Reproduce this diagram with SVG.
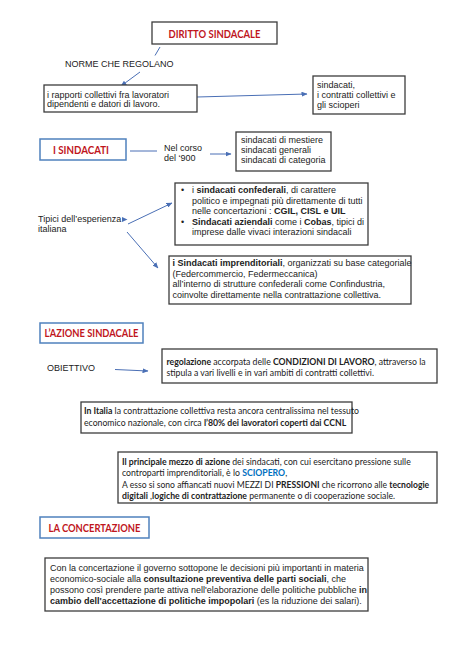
<svg xmlns="http://www.w3.org/2000/svg" width="474" height="670" viewBox="0 0 474 670">
<style>
.bg{fill:#fff}
.box{fill:#fff;stroke:#3c3c3c;stroke-width:1.3}
.hbox{fill:#fff;stroke:#4f81bd;stroke-width:1.5}
.h{font-family:Lato,"Open Sans",sans-serif;font-weight:bold;font-size:11px;fill:#c0161d;text-anchor:middle}
.a{font-family:"Liberation Sans",Arial,sans-serif;font-size:9px;fill:#222}
.c{font-family:Lato,"Open Sans",sans-serif;font-size:8.7px;fill:#222}
.b{font-weight:bold}
.conn{stroke:#4a6fb5;stroke-width:1;fill:none}
</style>
<defs>
<marker id="ah" markerWidth="6" markerHeight="5" refX="5.5" refY="2.5" orient="auto" markerUnits="userSpaceOnUse">
<path d="M0,0 L6,2.5 L0,5 Z" fill="#4a6fb5"/>
</marker>
</defs>
<rect class="bg" width="474" height="670"/>

<g id="connectors">
<line class="conn" x1="160" y1="47" x2="155" y2="55.5"/>
<line class="conn" x1="140" y1="72" x2="121" y2="86" marker-end="url(#ah)"/>
<line class="conn" x1="197" y1="97" x2="307" y2="94" marker-end="url(#ah)"/>
<line class="conn" x1="130" y1="151" x2="157" y2="151"/>
<line class="conn" x1="210" y1="154" x2="231" y2="154" marker-end="url(#ah)"/>
<polygon points="122,217 127.5,219.5 122,222" fill="#4a6fb5"/>
<line class="conn" x1="128" y1="224" x2="172" y2="203" marker-end="url(#ah)"/>
<line class="conn" x1="127" y1="232" x2="158" y2="268" marker-end="url(#ah)"/>
<line class="conn" x1="115" y1="369.5" x2="148" y2="371" marker-end="url(#ah)"/>
</g>

<g id="diritto">
<rect class="box" x="152" y="22" width="125" height="22"/>
<text class="h" x="214.5" y="37.5" textLength="92" lengthAdjust="spacingAndGlyphs">DIRITTO SINDACALE</text>
</g>
<g id="norme">
<text class="a" x="65" y="67">NORME CHE REGOLANO</text>
</g>
<g id="rapporti">
<rect class="box" x="44" y="85" width="153" height="27"/>
<text class="a" x="47" y="97.5">i rapporti collettivi fra lavoratori</text>
<text class="a" x="47" y="107">dipendenti e datori di lavoro.</text>
</g>
<g id="oggetti">
<rect class="box" x="313" y="76" width="92" height="38"/>
<text class="a" x="317" y="88">sindacati,</text>
<text class="a" x="317" y="98">i contratti collettivi e</text>
<text class="a" x="317" y="108">gli scioperi</text>
</g>

<g id="isindacati">
<rect class="hbox" x="40" y="139" width="86" height="21"/>
<text class="h" x="81" y="154" textLength="56" lengthAdjust="spacingAndGlyphs">I SINDACATI</text>
</g>
<g id="nelcorso">
<text class="a" x="164" y="151">Nel corso</text>
<text class="a" x="164" y="160.5">del ‘900</text>
</g>
<g id="tipi">
<rect class="box" x="236" y="132" width="95" height="39"/>
<text class="a" x="241" y="143">sindacati di mestiere</text>
<text class="a" x="241" y="153">sindacati generali</text>
<text class="a" x="241" y="163">sindacati di categoria</text>
</g>

<g id="tipici">
<text class="a" x="38" y="222.3">Tipici dell’esperienza</text>
<text class="a" x="38" y="231.5">italiana</text>
</g>
<g id="confederali">
<rect class="box" x="175" y="183" width="193" height="62"/>
<text class="a" x="181" y="193">•</text>
<text class="a" x="192" y="193">i <tspan class="b">sindacati confederali</tspan>, di carattere</text>
<text class="a" x="192" y="203.5">politico e impegnati più direttamente di tutti</text>
<text class="a" x="192" y="214">nelle concertazioni : <tspan class="b">CGIL, CISL e UIL</tspan></text>
<text class="a" x="181" y="224.5">•</text>
<text class="a" x="192" y="224.5"><tspan class="b">Sindacati aziendali</tspan> come i <tspan class="b">Cobas</tspan>, tipici di</text>
<text class="a" x="192" y="235">imprese dalle vivaci interazioni sindacali</text>
</g>
<g id="imprenditoriali">
<rect class="box" x="169" y="256" width="242" height="48"/>
<text class="a" x="172.5" y="266"><tspan class="b">i Sindacati imprenditoriali</tspan>, organizzati su base categoriale</text>
<text class="a" x="172.5" y="276.5">(Federcommercio, Federmeccanica)</text>
<text class="a" x="172.5" y="287">all’interno di strutture confederali come Confindustria,</text>
<text class="a" x="172.5" y="297.5">coinvolte direttamente nella contrattazione collettiva.</text>
</g>

<g id="azione">
<rect class="hbox" x="40" y="323" width="103" height="20"/>
<text class="h" x="91.5" y="337" textLength="94" lengthAdjust="spacingAndGlyphs">L’AZIONE SINDACALE</text>
</g>
<g id="obiettivo">
<text class="a" x="47" y="370.5">OBIETTIVO</text>
</g>
<g id="regolazione">
<rect class="box" x="162" y="349" width="275" height="34"/>
<text class="c" x="166.5" y="364.5"><tspan class="b">regolazione</tspan> accorpata delle <tspan class="b">CONDIZIONI DI LAVORO</tspan>, attraverso la</text>
<text class="c" x="166.5" y="375.5">stipula a vari livelli e in vari ambiti di contratti collettivi.</text>
</g>

<g id="italia">
<rect class="box" x="81" y="402" width="271" height="31"/>
<text class="c" x="84" y="414"><tspan class="b">In Italia</tspan> la contrattazione collettiva resta ancora centralissima nel tessuto</text>
<text class="c" x="84" y="425.5">economico nazionale, con circa <tspan class="b">l’80% dei lavoratori coperti dai CCNL</tspan></text>
</g>
<g id="sciopero">
<rect class="box" x="118" y="452" width="319" height="51"/>
<text class="c" x="122" y="464.5"><tspan class="b">Il principale mezzo di azione</tspan> dei sindacati, con cui esercitano pressione sulle</text>
<text class="c" x="122" y="476">controparti imprenditoriali, è lo <tspan class="b" fill="#0070c0">SCIOPERO</tspan>,</text>
<text class="c" x="122" y="487.5" style="font-size:8.58px">A esso si sono affiancati nuovi MEZZI DI <tspan class="b">PRESSIONI</tspan> che ricorrono alle <tspan class="b">tecnologie</tspan></text>
<text class="c" x="122" y="499"><tspan class="b">digitali </tspan>,<tspan class="b">logiche di contrattazione</tspan> permanente o di cooperazione sociale.</text>
</g>

<g id="concertazione">
<rect class="hbox" x="40" y="517" width="109" height="21"/>
<text class="h" x="94.5" y="531.5" textLength="92" lengthAdjust="spacingAndGlyphs">LA CONCERTAZIONE</text>
</g>
<g id="consultazione">
<rect class="box" x="45" y="558" width="323" height="53"/>
<text class="a" x="50" y="570.5">Con la concertazione il governo sottopone le decisioni più importanti in materia</text>
<text class="a" x="50" y="581.5">economico-sociale alla <tspan class="b">consultazione preventiva delle parti sociali</tspan>, che</text>
<text class="a" x="50" y="592.5">possono così prendere parte attiva nell'elaborazione delle politiche pubbliche <tspan class="b">in</tspan></text>
<text class="a" x="50" y="603.5"><tspan class="b">cambio dell'accettazione di politiche impopolari</tspan> (es la riduzione dei salari).</text>
</g>
</svg>
